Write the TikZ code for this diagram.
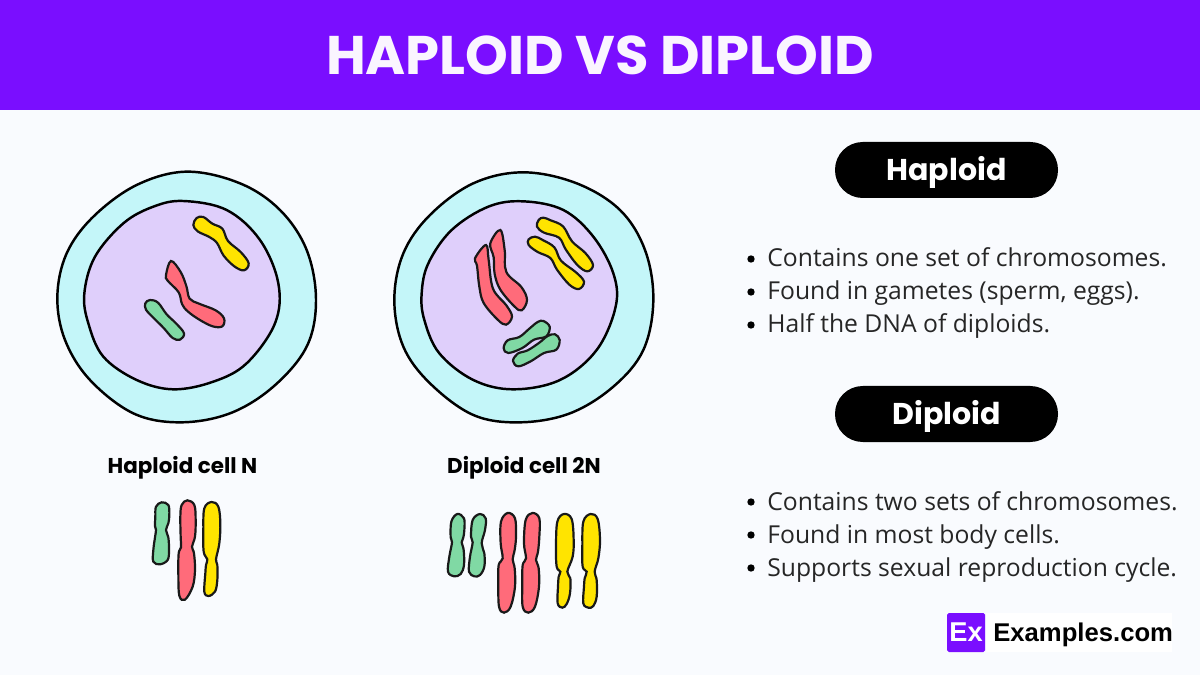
\documentclass[tikz,border=0pt]{standalone}
\usepackage{fontspec}
\setmainfont{Poppins}
\newfontfamily\bodyfont{Open Sans}
\newfontfamily\logofont{Liberation Sans}
\definecolor{bandpurple}{HTML}{7A0EFF}
\definecolor{pagetint}{HTML}{F9FBFE}
\definecolor{cytocol}{HTML}{C4F6F9}
\definecolor{nuclcol}{HTML}{DFCFFB}
\definecolor{redcol}{HTML}{FF6B7A}
\definecolor{yelcol}{HTML}{FFE400}
\definecolor{grncol}{HTML}{80D9A4}
\tikzset{
 wall/.style={draw=black,line width=1.4pt},
 chrom/.style={draw=black!90,line width=1.25pt},
 pilltext/.style={fill=black,text=white,rounded corners=15.8pt,minimum width=223*0.02cm,minimum height=56*0.02cm,font=\fontsize{17.1pt}{20pt}\selectfont\bfseries,inner sep=0pt,text height=14pt,text depth=1.6pt},
 celltag/.style={font=\fontsize{12.2pt}{14pt}\selectfont\bfseries,text=black},
 linetext/.style={anchor=base west,inner sep=0pt,font=\bodyfont\fontsize{14.05pt}{16pt}\selectfont,text=black!85},
 dotmark/.style={circle,fill=black,inner sep=0pt,minimum size=4.2pt},
}
\newcommand{\blob}[2]{\draw[#1] plot[smooth cycle,tension=0.6] coordinates {#2};}
\begin{document}
\begin{tikzpicture}[x=0.02cm,y=-0.02cm]
\fill[pagetint] (0,0) rectangle (1200,675);
\fill[bandpurple] (0,0) rectangle (1200,110);
\node[text=white!96!bandpurple,font=\fontsize{30.95pt}{36pt}\selectfont\bfseries] (title) at (600,55) {HAPLOID VS DIPLOID};
% haploid cell
\begin{scope}[shift={(40,160)},scale=1/3]
\blob{wall,fill=cytocol}{(440,35)(600,70)(720,150)(800,270)(828,420)(800,560)(700,680)(570,760)(420,787)(280,760)(150,660)(75,540)(52,410)(80,280)(160,170)(290,75)}
\blob{wall,fill=nuclcol}{(430,123)(560,150)(660,240)(715,370)(705,490)(620,610)(520,665)(400,688)(290,660)(190,590)(145,490)(133,400)(165,290)(250,190)(340,140)}
\blob{chrom,fill=yelcol}{(470,174)(490,171)(517,191)(547,206)(564,243)(602,276)(626,310)(612,331)(583,319)(551,287)(531,249)(508,231)(473,214)(460,195)}
\blob{chrom,fill=redcol}{(393,303)(422,336)(439,378)(449,416)(477,431)(527,451)(552,475)(547,499)(518,499)(478,479)(443,454)(426,432)(416,397)(383,362)(378,345)}
\blob{chrom,fill=grncol}{(330,420)(354,428)(380,463)(409,491)(432,520)(420,539)(398,534)(371,504)(341,474)(318,449)(316,430)}
\end{scope}
% diploid cell
\begin{scope}[shift={(380,160)},scale=1/3]
\blob{wall,fill=cytocol}{(430,37)(590,70)(720,150)(795,270)(820,420)(790,570)(700,680)(570,760)(420,787)(280,765)(150,670)(70,560)(43,420)(70,280)(150,165)(280,70)}
\blob{wall,fill=nuclcol}{(430,124)(550,150)(640,230)(700,340)(707,440)(650,570)(540,660)(400,688)(280,660)(178,580)(133,480)(125,400)(145,310)(215,210)(325,140)}
\blob{chrom,fill=redcol}{(318,255)(326,300)(339,386)(379,436)(396,470)(378,494)(353,479)(311,429)(298,380)(291,317)(285,295)}
\blob{chrom,fill=redcol}{(361,210)(374,270)(379,336)(424,381)(441,420)(425,451)(403,439)(361,389)(344,342)(341,292)(331,250)}
\blob{chrom,fill=yelcol}{(490,173)(512,181)(549,199)(576,244)(616,279)(639,315)(622,334)(592,315)(557,268)(537,233)(492,218)(471,200)(476,180)}
\blob{chrom,fill=yelcol}{(465,230)(488,240)(523,262)(543,302)(588,337)(612,365)(597,387)(568,374)(531,329)(511,294)(473,276)(446,255)(446,238)}
\blob{chrom,fill=grncol}{(490,483)(509,500)(499,529)(462,539)(427,564)(385,579)(371,565)(383,541)(418,531)(448,506)(473,486)}
\blob{chrom,fill=grncol}{(525,523)(539,540)(529,569)(492,579)(452,604)(415,619)(399,603)(413,581)(443,571)(478,548)(503,528)}
\end{scope}
\node[celltag] (haptag) at (182.5,467.5) {Haploid cell N};
\node[celltag] (diptag) at (524,467.5) {Diploid cell 2N};
% karyotype haploid
\begin{scope}[shift={(100,450)},scale=1/3]
\blob{chrom,fill=grncol}{(185,157)(205,165)(208,195)(205,220)(198,240)(205,262)(207,300)(203,330)(180,343)(160,335)(160,300)(165,262)(168,240)(165,228)(166,200)(168,170)}
\blob{chrom,fill=redcol}{(262,151)(283,165)(287,210)(285,260)(276,290)(282,310)(285,360)(278,410)(255,449)(238,437)(235,370)(236,310)(243,292)(242,260)(241,200)(245,165)}
\blob{chrom,fill=yelcol}{(335,156)(355,170)(361,220)(358,280)(348,328)(352,345)(352,390)(345,425)(325,438)(313,425)(316,370)(318,345)(322,328)(311,305)(310,240)(313,175)}
\end{scope}
% karyotype diploid
\begin{scope}[shift={(430,450)},scale=1/3]
\blob{chrom,fill=grncol}{(82,192)(102,205)(103,240)(100,262)(95,277)(101,300)(102,345)(92,372)(72,379)(54,365)(58,320)(66,277)(62,262)(64,215)}
\blob{chrom,fill=grncol}{(150,192)(167,205)(165,240)(155,280)(163,310)(163,350)(150,375)(133,379)(117,365)(120,320)(128,277)(123,260)(128,210)}
\blob{chrom,fill=redcol}{(233,189)(255,205)(258,260)(254,300)(248,328)(254,355)(255,410)(242,470)(222,488)(207,470)(205,400)(206,345)(218,325)(212,280)(213,215)}
\blob{chrom,fill=redcol}{(307,189)(328,205)(328,260)(324,305)(318,330)(326,355)(327,410)(315,470)(295,488)(278,470)(277,400)(278,345)(288,325)(282,280)(287,210)}
\blob{chrom,fill=yelcol}{(402,192)(425,207)(431,270)(428,320)(412,365)(421,385)(420,430)(410,462)(397,473)(383,460)(384,410)(386,380)(391,365)(380,350)(378,290)(382,215)}
\blob{chrom,fill=yelcol}{(482,192)(503,207)(510,270)(505,325)(494,365)(500,390)(500,440)(490,468)(475,473)(460,460)(462,410)(464,385)(470,365)(458,350)(457,290)(460,215)}
\end{scope}
% right column
\node[pilltext] (happill) at (946.5,170) {Haploid};
\node[pilltext] (dippill) at (946.5,414) {Diploid};
\foreach \i/\y/\t in {1/267/{Contains one set of chromosomes.},2/300/{Found in gametes (sperm, eggs).},3/333/{Half the DNA of diploids.},4/510/{Contains two sets of chromosomes.},5/543/{Found in most body cells.},6/576/{Supports sexual reproduction cycle.}}{
\node[linetext] (line\i) at (767,\y) {\t};
\node[dotmark] (dot\i) at (751,\y-8) {};
}
% logo
\fill[white] (986,613) rectangle (1172,652);
\node[fill=bandpurple,text=white,rounded corners=1pt,minimum width=38*0.02cm,minimum height=39*0.02cm,inner sep=0pt,font=\logofont\fontsize{15.5pt}{16pt}\selectfont\bfseries] (logomark) at (966,632.5) {Ex};
\node[anchor=west,inner sep=0pt,font=\logofont\fontsize{14.6pt}{16pt}\selectfont\bfseries] (logotext) at (993,634.5) {Examples.com};
\end{tikzpicture}
\end{document}
